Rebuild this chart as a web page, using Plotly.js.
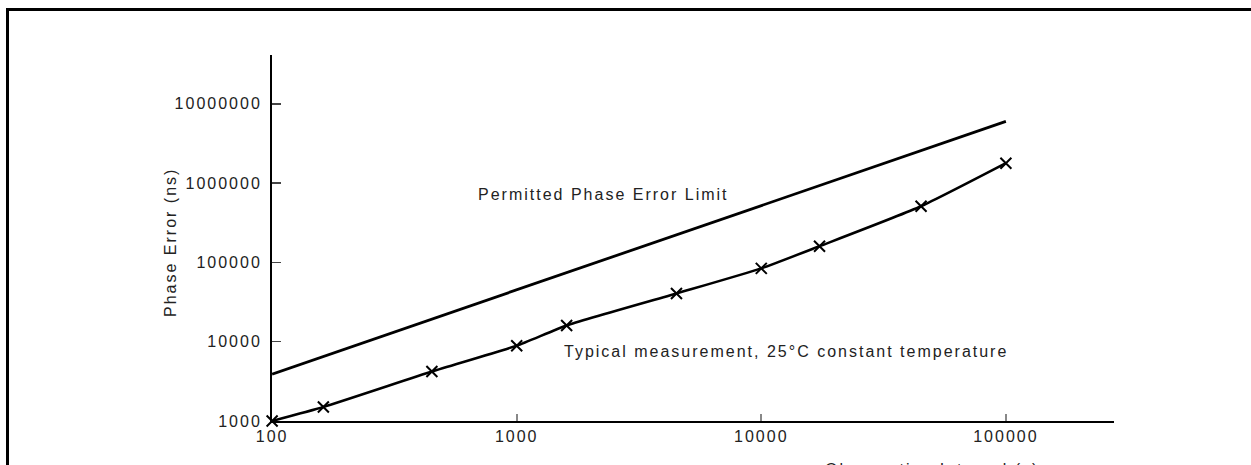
<!DOCTYPE html>
<html>
<head>
<meta charset="utf-8">
<script src="https://cdn.plot.ly/plotly-3.0.1.min.js"></script>
<style>
  html, body { margin: 0; padding: 0; background: #fff; }
  text { letter-spacing: 2px; }
</style>
</head>
<body>
<div id="chart" style="width:1251px;height:465px;"></div>
<script>
// Permitted phase error limit (straight line on log-log)
const limitX = [100, 100000];
const limitY = [3900, 6000000];

// Typical measurement, 25°C constant temperature
const measX = [100, 162, 450, 1000, 1600, 4500, 10000, 17300, 45000, 100000];
const measY = [1000, 1500, 4200, 8900, 16000, 40500, 84000, 160000, 510000, 1780000];

// Tick labels
const xTickVals = [100, 1000, 10000, 100000];
const xTickText = ["100", "1000", "10000", "100000"];
const yTickVals = [1000, 10000, 100000, 1000000, 10000000];
const yTickText = ["1000", "10000", "100000", "1000000", "10000000"];

const font = "Liberation Sans, Arial, sans-serif";
const fs = 16;

const traces = [
  {
    x: limitX, y: limitY, type: "scatter", mode: "lines",
    name: "Permitted Phase Error Limit",
    line: { color: "#000", width: 2.8 },
    hoverinfo: "skip"
  },
  {
    x: measX, y: measY, type: "scatter", mode: "lines+markers",
    name: "Typical measurement, 25°C constant temperature",
    line: { color: "#000", width: 2.5, shape: "spline", smoothing: 0.5 },
    marker: { symbol: "x-thin", size: 11, color: "#000", line: { color: "#000", width: 2 } },
    cliponaxis: false
  }
];

const layout = {
  width: 1251, height: 465,
  margin: { l: 272, r: 137, t: 55, b: 44, pad: 0 },
  paper_bgcolor: "#fff", plot_bgcolor: "#fff",
  showlegend: false,
  font: { family: font, size: fs, color: "#222" },
  xaxis: {
    type: "log", range: [1.9995, 5.442],
    showgrid: false, zeroline: false, layer: "below traces",
    showline: true, linecolor: "#000", linewidth: 2,
    ticks: "inside", ticklen: 7, tickwidth: 2, tickcolor: "#888",
    tickvals: xTickVals, ticktext: xTickText,
    tickfont: { family: font, size: fs, color: "#222" }
  },
  yaxis: {
    type: "log", range: [2.9995, 7.615],
    showgrid: false, zeroline: false, layer: "below traces",
    showline: true, linecolor: "#000", linewidth: 2,
    ticks: "inside", ticklen: 9, tickwidth: 1.5, tickcolor: "#444",
    tickvals: yTickVals, ticktext: yTickText,
    ticklabelstandoff: 5,
    tickfont: { family: font, size: fs, color: "#222" }
  },
  annotations: [
    {
      text: "Phase Error (ns)", xref: "paper", yref: "paper", textangle: -90,
      x: (170 - 272) / 842, y: (421 - 243) / 366, xanchor: "center", yanchor: "middle",
      showarrow: false, font: { family: font, size: fs, color: "#222" }
    },
    {
      text: "Permitted Phase Error Limit", xref: "paper", yref: "paper",
      x: (476 - 272) / 842, y: (421 - 194) / 366, xanchor: "left", yanchor: "middle",
      showarrow: false, font: { family: font, size: fs, color: "#222" }
    },
    {
      text: "Typical measurement, 25°C constant temperature", xref: "paper", yref: "paper",
      x: (562 - 272) / 842, y: (421 - 351) / 366, xanchor: "left", yanchor: "middle",
      showarrow: false, font: { family: font, size: fs, color: "#222" }
    },
    {
      text: "Observation Interval (s)", xref: "paper", yref: "paper",
      x: (823 - 272) / 842, y: (421 - 469) / 366, xanchor: "left", yanchor: "middle",
      showarrow: false, font: { family: font, size: fs, color: "#222" }
    }
  ],
  shapes: [
    {
      type: "rect", xref: "paper", yref: "paper",
      x0: (7.5 - 272) / 842, x1: (1275 - 272) / 842,
      y0: (421 - 490) / 366, y1: (421 - 9.5) / 366,
      line: { color: "#000", width: 3 }, fillcolor: "rgba(0,0,0,0)", layer: "above"
    }
  ]
};

Plotly.newPlot("chart", traces, layout, { displayModeBar: false, staticPlot: true });
</script>
</body>
</html>
